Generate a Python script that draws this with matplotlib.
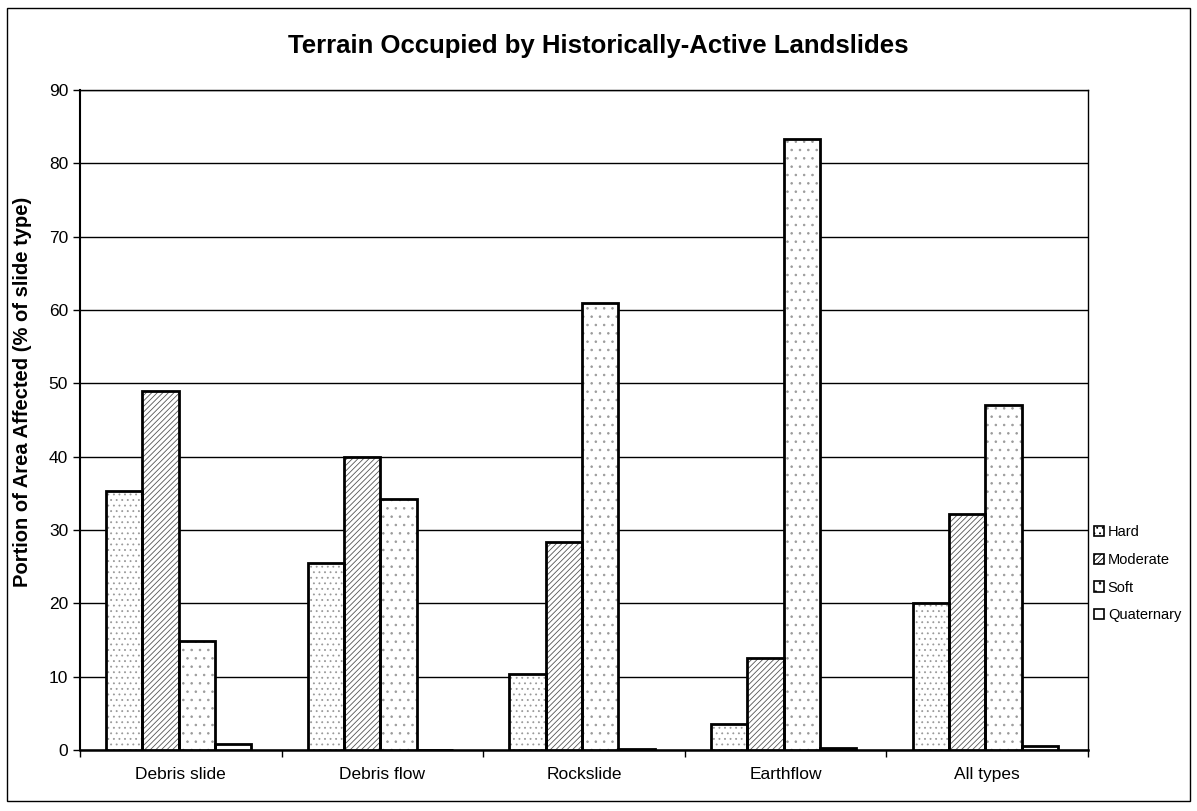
import matplotlib
matplotlib.use("Agg")
import matplotlib.pyplot as plt
import numpy as np
from matplotlib.patches import Rectangle

# Data
categories = ["Debris slide", "Debris flow", "Rockslide", "Earthflow", "All types"]
hard = [35.3, 25.5, 10.3, 3.6, 20.0]
moderate = [49.0, 40.0, 28.3, 12.5, 32.2]
soft = [14.8, 34.2, 61.0, 83.3, 47.0]
quaternary = [0.8, 0.05, 0.1, 0.3, 0.5]
series_names = ["Hard", "Moderate", "Soft", "Quaternary"]
y_ticks = list(range(0, 91, 10))

plt.rcParams["font.family"] = ["Liberation Sans", "DejaVu Sans"]
plt.rcParams["hatch.linewidth"] = 0.6

fig = plt.figure(figsize=(11.97, 8.11), dpi=100)
ax = fig.add_axes([0.0668, 0.0752, 0.9422 - 0.0668 - 0.0332, 0.889 - 0.0752])

# outer frame around the whole chart
fig.patches.append(Rectangle((0.006, 0.012), 0.988, 0.978, transform=fig.transFigure,
                             fill=False, edgecolor="black", linewidth=1.0))

x = np.arange(len(categories))
width = 0.18
styles = [
    dict(hatch="...", color="#9a9a9a"),
    dict(hatch="//////", color="#555555"),
    dict(hatch="..", color="#9a9a9a"),
    dict(hatch="", color="black"),
]
values = [hard, moderate, soft, quaternary]

handles = []
for i, (vals, st) in enumerate(zip(values, styles)):
    offs = (i - 1.5) * width - 0.01
    ax.bar(x + offs, vals, width, facecolor="white", edgecolor=st["color"],
           hatch=st["hatch"], linewidth=0, zorder=3)
    # black outline drawn separately so hatch can be grey
    ax.bar(x + offs, vals, width, facecolor="none", edgecolor="black",
           linewidth=2.0, zorder=4)
    handles.append(Rectangle((0, 0), 1, 1, facecolor="white", edgecolor="black",
                             hatch=st["hatch"], linewidth=1.2))

ax.set_xlim(-0.5, len(categories) - 0.5)
ax.set_ylim(0, 90)
ax.set_yticks(y_ticks)
ax.set_yticklabels([str(t) for t in y_ticks], fontsize=12.5)
ax.yaxis.grid(True, color="black", linewidth=1.0, zorder=0)
ax.set_axisbelow(True)

ax.set_xticks(x)
ax.set_xticklabels(categories, fontsize=12.5)
ax.tick_params(axis="x", length=0, pad=12)
ax.set_xticks(np.arange(-0.5, len(categories), 1.0), minor=True)
ax.tick_params(axis="x", which="minor", length=5, direction="out", width=1)
ax.tick_params(axis="y", length=5, direction="out", width=1)

for s in ax.spines.values():
    s.set_linewidth(1.0)
ax.spines["left"].set_linewidth(1.5)
ax.spines["bottom"].set_linewidth(1.8)

ax.set_ylabel("Portion of Area Affected (% of slide type)", fontsize=14.5,
              fontweight="bold", labelpad=6)
ax.yaxis.set_label_coords(-0.048, 0.542)
fig.text(0.5, 0.943, "Terrain Occupied by Historically-Active Landslides",
         ha="center", va="center", fontsize=18.5, fontweight="bold")

fig.legend(handles, series_names, loc="upper left", bbox_to_anchor=(0.909, 0.36),
           frameon=False, fontsize=10.5, handlelength=0.7, handleheight=0.7,
           handletextpad=0.25, labelspacing=0.95, borderaxespad=0)

fig.savefig("out.png", dpi=100)
